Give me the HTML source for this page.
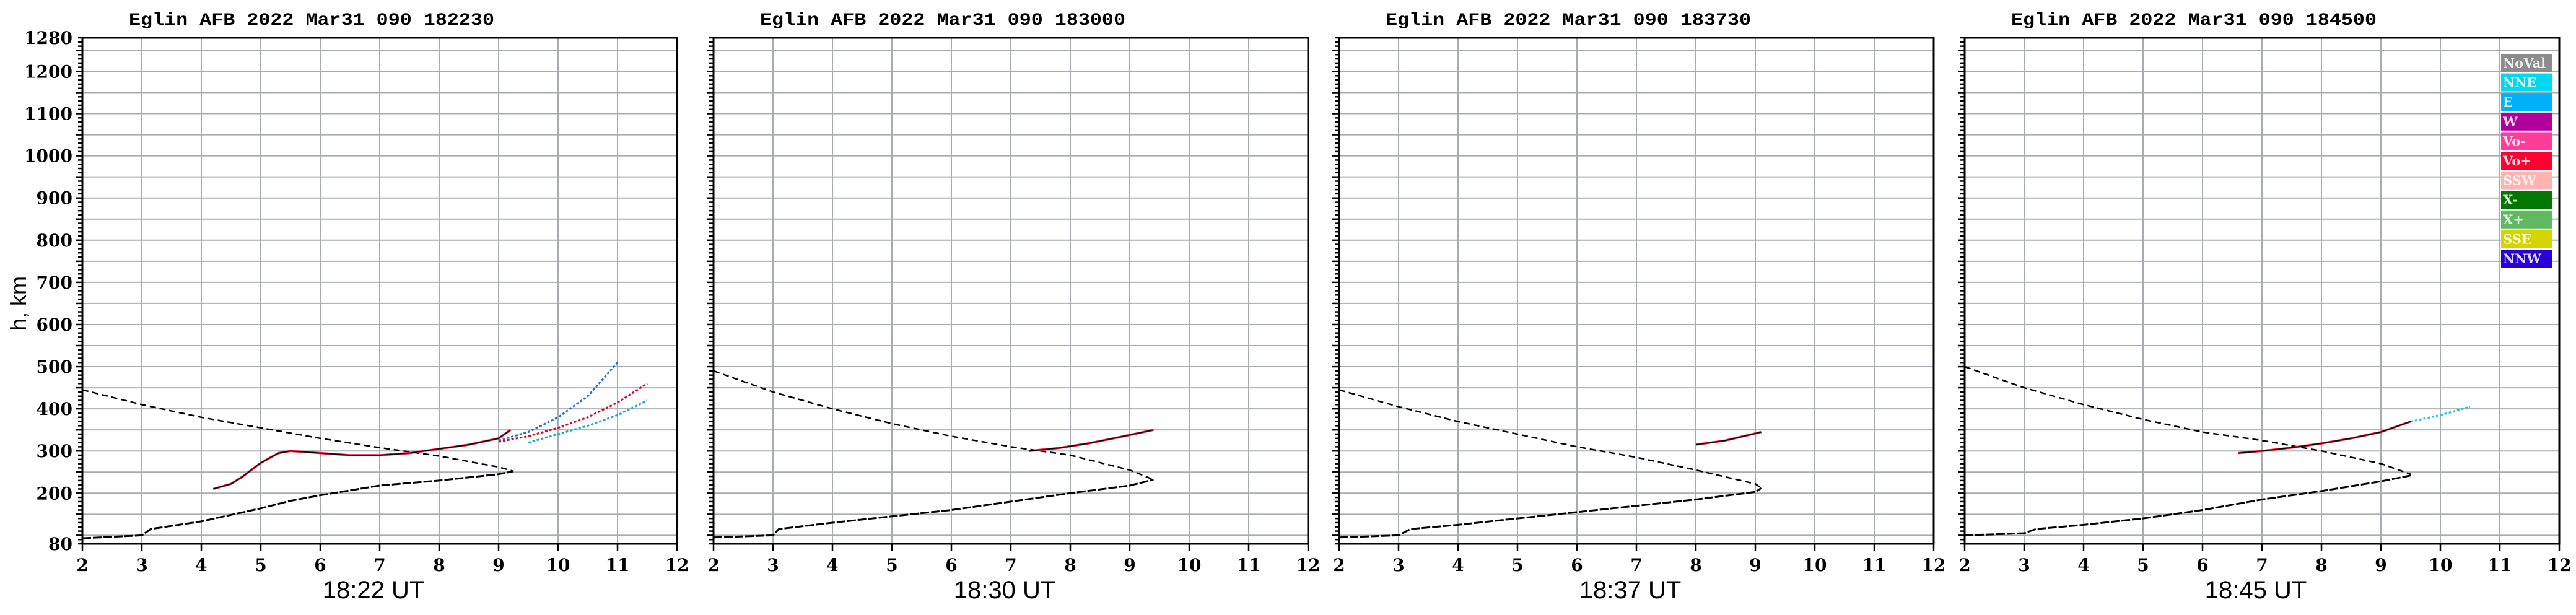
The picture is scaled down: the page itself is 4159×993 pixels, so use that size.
<!DOCTYPE html>
<html><head><meta charset="utf-8"><style>
html,body{margin:0;padding:0;background:#fff;}
svg{display:block;}
</style></head><body>
<svg id="chart" width="4159" height="993" viewBox="0 0 4159 993" xmlns="http://www.w3.org/2000/svg">
<text x="0" y="0" transform="translate(42,490) rotate(-90)" text-anchor="middle" font-family="Liberation Sans, sans-serif" font-size="36">h, km</text>
</svg>
<script>
const panelTitles = ["Eglin AFB 2022 Mar31 090 182230","Eglin AFB 2022 Mar31 090 183000","Eglin AFB 2022 Mar31 090 183730","Eglin AFB 2022 Mar31 090 184500"];
const panelTimes = ["18:22 UT","18:30 UT","18:37 UT","18:45 UT"];
const xTicks = [2,3,4,5,6,7,8,9,10,11,12];
const yTickLabels = [80,200,300,400,500,600,700,800,900,1000,1100,1200,1280];
// model profile (dashed) frequencies / heights per panel
const modelF = [
 [2,3,4,5,6,7,8,9,9.25],
 [2,3,4,5,6,7,8,9,9.4],
 [2,3,4,5,6,7,8,9,9.1],
 [2,3,4,5,6,7,8,9,9.5]];
const modelH = [
 [445,410,380,355,330,308,288,262,252],
 [490,440,400,365,335,310,290,255,232],
 [445,405,370,340,310,285,255,222,212],
 [500,450,410,375,345,325,300,270,245]];
// lower true-height profile
const lowF = [
 [2,3,3.15,4,5,5.5,6,7,8,9,9.25],
 [2,3,3.1,4,5,6,7,8,9,9.4],
 [2,3,3.2,4,5,6,7,8,9,9.1],
 [2,3,3.2,4,5,6,7,8,9,9.5]];
const lowH = [
 [93,100,115,133,164,182,195,218,230,245,252],
 [95,100,115,130,145,160,180,200,218,232],
 [95,100,115,125,140,155,170,185,203,212],
 [100,105,115,125,140,160,185,205,228,242]];
// observed trace
const traceF = [
 [4.2,4.5,4.7,5,5.3,5.5,6,6.5,7,7.5,8,8.5,9,9.2],
 [7.3,7.8,8.3,8.8,9.4],
 [8,8.5,9.1],
 [6.6,7,7.5,8,8.5,9,9.5]];
const traceH = [
 [210,222,240,272,295,300,295,290,290,295,305,315,330,350],
 [300,307,318,332,350],
 [315,325,345],
 [295,300,308,318,330,345,370]];
// extra colored echo branches (panel 1 and 4)
const branchF = [[9,9.5,10,10.5,11],[9,9.5,10,10.5,11,11.5],[9.5,10,10.5,11,11.5],[9.5,10,10.5]];
const branchH = [[325,345,380,430,510],[322,335,355,380,415,460],[320,340,360,385,420],[370,385,405]];
const branchPanel = [0,0,0,3];
const branchColor = ["#1e6fd0","#e0002a","#1aa8c8","#20c8d8"];
const legendLabels = ["NoVal","NNE","E","W","Vo-","Vo+","SSW","X-","X+","SSE","NNW"];
const legendColors = ["#8c8c8c","#00d8f0","#00b0f8","#b0009c","#ff3c98","#ff0030","#ffb4b0","#007800","#60b860","#d4d400","#2800d8"];

const NS="http://www.w3.org/2000/svg";
const svg=document.getElementById('chart');
const panelLeft=[133,1152,2162,3172];
const PW=960, TOP=61, BOT=878;
function mk(t,a,p){const e=document.createElementNS(NS,t);for(const k in a)e.setAttribute(k,a[k]);(p||svg).appendChild(e);return e;}
function xs(p,f){return panelLeft[p]+(f-2)/10*PW;}
function ys(h){return BOT-(h-80)/1200*(BOT-TOP);}
function pathD(p,F,H){return F.map((f,i)=>(i?'L':'M')+xs(p,f).toFixed(1)+','+ys(H[i]).toFixed(1)).join(' ');}

for(let p=0;p<4;p++){
  const g=mk('g',{});
  
  
  const L=panelLeft[p];
  for(let h=100;h<1280;h+=50){
    const ln=mk('line',{x1:L,x2:L+PW,y1:ys(h),y2:ys(h),stroke:'#a8acb0','stroke-width':2},g);
    
    
  }
  for(const f of xTicks){
    if(f===2||f===12)continue;
    const ln=mk('line',{x1:xs(p,f),x2:xs(p,f),y1:TOP,y2:BOT,stroke:'#a8acb0','stroke-width':2},g);
    
    
  }
  const fr=mk('rect',{x:L,y:TOP,width:PW,height:BOT-TOP,fill:'none',stroke:'#000','stroke-width':3},g);
  
  
  for(let h=80;h<=1280;h+=10){
    const major=(h%50===0);
    mk('line',{x1:L-(major?11:7),x2:L,y1:ys(h),y2:ys(h),stroke:'#000','stroke-width':2.5},g);
  }
  if(p===0){
    for(const v of yTickLabels){
      const t=mk('text',{x:117,y:ys(v)+10,'text-anchor':'end','font-family':'DejaVu Serif, Liberation Serif, serif','font-weight':'bold','font-size':28},g);
      
      
      t.textContent=v;
    }
  }
  for(const f of xTicks){
    mk('line',{x1:xs(p,f),x2:xs(p,f),y1:BOT,y2:BOT+12,stroke:'#000','stroke-width':2.5},g);
    const t=mk('text',{x:xs(p,f),y:922,'text-anchor':'middle','font-family':'DejaVu Serif, Liberation Serif, serif','font-weight':'bold','font-size':28},g);
    
    
    t.textContent=f;
  }
  const tt=mk('text',{x:L+75,y:40,'font-family':'Liberation Mono, monospace','font-weight':'bold','font-size':28,textLength:590,lengthAdjust:'spacingAndGlyphs'},g);
  
  
  tt.textContent=panelTitles[p];
  const tm=mk('text',{x:L+PW/2-10,y:966,'text-anchor':'middle','font-family':'Liberation Sans Narrow, Liberation Sans, sans-serif','font-size':40},g);
  
  
  tm.textContent=panelTimes[p];
  const md=mk('path',{d:pathD(p,modelF[p],modelH[p]),fill:'none',stroke:'#000','stroke-width':2.5,'stroke-dasharray':'10,6'},g);
  
  
  const lw=mk('path',{d:pathD(p,lowF[p],lowH[p]),fill:'none',stroke:'#000','stroke-width':3,'stroke-dasharray':'14,3'},g);
  
  
  const tr=mk('path',{d:pathD(p,traceF[p],traceH[p]),fill:'none',stroke:'#e0203a','stroke-width':3.5},g);
  
  
  const tr2=mk('path',{d:pathD(p,traceF[p],traceH[p]),fill:'none',stroke:'#000','stroke-width':1.5},g);
  
  
}
for(let b=0;b<branchF.length;b++){
  const bp=mk('path',{d:pathD(branchPanel[b],branchF[b],branchH[b]),fill:'none',stroke:branchColor[b],'stroke-width':3,'stroke-dasharray':'4,3'});
  
  
}
const lg=mk('g',{});


for(let i=0;i<legendLabels.length;i++){
  const y=87+i*31.6;
  const r=mk('rect',{x:4038,y:y,width:83,height:29,fill:legendColors[i]},lg);
  
  
  const t=mk('text',{x:4041,y:y+22,'font-family':'DejaVu Serif, Liberation Serif, serif','font-weight':'bold','font-size':21,fill:'rgba(255,255,255,0.85)'},lg);
  
  
  t.textContent=legendLabels[i];
}
</script>
</body></html>
